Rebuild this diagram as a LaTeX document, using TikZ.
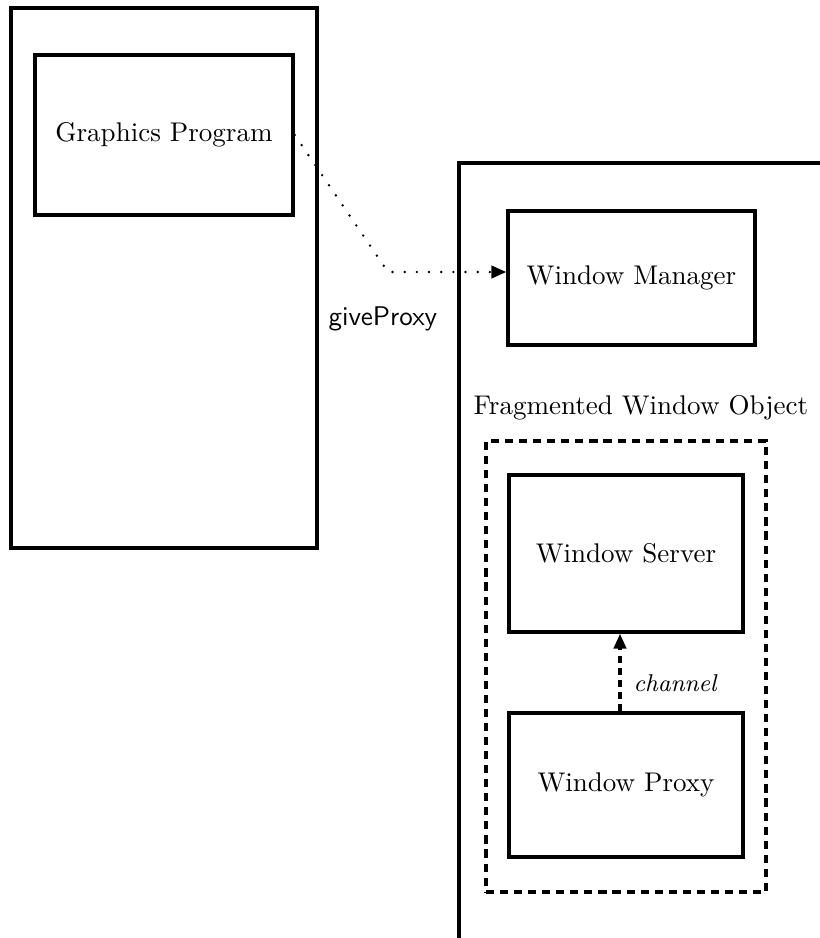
\documentclass[tikz,border=0pt]{standalone}
\usetikzlibrary{arrows.meta}
\newcommand\pxu{0.37pt}
\tikzset{
  box/.style={draw, line width=1.3pt, inner sep=0pt, font=\normalsize},
  dashbox/.style={draw, line width=1.2pt, inner sep=0pt, dash pattern=on 3pt off 2.2pt},
  dotline/.style={line width=1pt, line cap=round, dash pattern=on 0pt off 4.5pt},
  chline/.style={line width=1.2pt, dash pattern=on 2.6pt off 1.9pt},
  tip/.style={-{Triangle[length=5.5pt,width=4.6pt]}},
  lbl/.style={inner sep=0pt, anchor=base west},
}
\begin{document}
\begin{tikzpicture}[x=0.37pt,y=-0.37pt]
\useasboundingbox (0,0) rectangle (820,938);
% left host
\node[box, minimum width={306*\pxu}, minimum height={540*\pxu}] (hostL) at (164,278) {};
\node[box, minimum width={258*\pxu}, minimum height={160*\pxu}] (gp) at (164,135) {Graphics Program};
% right host (open to the right and bottom)
\coordinate (rb) at (459,938);
\coordinate (rc) at (459,163);
\coordinate (rr) at (820,163);
\draw[line width=1.3pt] (rb) -- (rc) -- (rr);
\node[box, minimum width={247*\pxu}, minimum height={134*\pxu}] (wm) at (631.5,278) {Window Manager};
\node[lbl] (fwo) at (473,414) {Fragmented Window Object};
\node[dashbox, minimum width={280*\pxu}, minimum height={451*\pxu}] (frag) at (626,666.5) {};
\node[box, minimum width={234*\pxu}, minimum height={157*\pxu}] (ws) at (626,553.5) {Window Server};
\node[box, minimum width={234*\pxu}, minimum height={144*\pxu}] (wp) at (626,785) {Window Proxy};
% labels
\node[lbl, font=\sffamily] (give) at (328,325) {giveProxy};
\node[lbl, font=\fontsize{9}{11}\selectfont\itshape] (chan) at (633,691) {channel};
% dotted connector
\coordinate (bend) at (388,272);
\draw[dotline, tip] (gp.east) -- (bend) -- (bend -| wm.west);
% channel
\draw[chline, tip] ([xshift={-6*\pxu}]wp.north) -- ([xshift={-6*\pxu}]ws.south);
\end{tikzpicture}
\end{document}
